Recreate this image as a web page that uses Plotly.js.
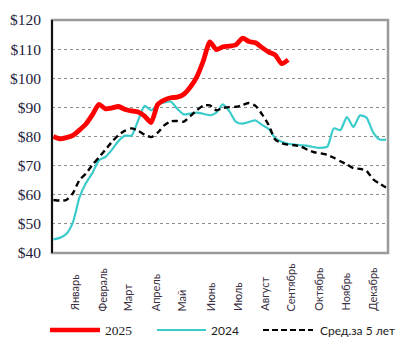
<!DOCTYPE html>
<html>
<head>
<meta charset="utf-8">
<script src="https://cdn.plot.ly/plotly-3.0.1.min.js"></script>
<style>
html,body{margin:0;padding:0;background:#fff;}
#chart{width:417px;height:355px;}
</style>
</head>
<body>
<div id="chart"></div>
<script>
// Week numbers of the year
const weeks = Array.from({length: 52}, (_, i) => i + 1);

// 2025 (weeks 1..37)
const series2025 = [80, 79.2, 79.6, 80.4, 82.2, 84.3, 87.5, 91, 89.5, 89.8,
  90.3, 89.3, 88.8, 88.4, 87, 84.8, 91, 92.5, 93.3, 93.5,
  94.5, 97, 100.5, 106, 112.5, 109.8, 110.8, 111, 111.5, 113.8,
  112.6, 112.2, 110.5, 109, 108, 105, 106.3];

// 2024 (weeks 1..52)
const series2024 = [44.7, 45.2, 46.5, 50.5, 59, 64, 67.5, 71.8, 73, 75.5,
  78.5, 80.3, 80.3, 85.5, 90.5, 89, 91, 91.7, 92, 89.5,
  87.6, 87.9, 88.2, 87.8, 87.3, 88.2, 91, 88.6, 85, 84.4,
  85, 85.5, 84, 82.6, 79.5, 78.2, 77.5, 77.2, 77, 76.8,
  76.3, 76.1, 76.5, 82.8, 82.2, 86.7, 83.3, 87.2, 86.5, 81.5,
  79, 78.9];

// 5-year average (weeks 1..52)
const seriesAvg5 = [58.2, 58, 58.2, 60.5, 65, 67.3, 70.3, 72.8, 75.5, 78.2,
  80.5, 82, 82.8, 82, 80.6, 79.8, 81.3, 83.8, 85.2, 85.3,
  85.1, 87, 89, 90.6, 90.7, 89, 89.8, 90.1, 90.2, 90.8,
  91.5, 90.5, 87.6, 84, 79, 77.7, 77.2, 77, 76.5, 75.4,
  74.6, 74.2, 73.7, 72.7, 71.5, 70.4, 69.1, 68.9, 68.2, 65.4,
  63.8, 62.5];

// Month tick labels and the week at which each is placed
const monthLabels = ["Январь", "Февраль", "Март", "Апрель", "Май", "Июнь",
  "Июль", "Август", "Сентябрь", "Октябрь", "Ноябрь", "Декабрь"];
const monthWeeks = [4.3, 8.6, 12.5, 16.7, 20.8, 25.2, 29.3, 33.4, 37.5, 41.6, 45.8, 49.9];

// Legend names
const seriesNames = ["2025", "2024", "Сред.за 5 лет"];

const SERIF = 'Liberation Serif';
const SANS = 'Lato';

const traces = [
  {x: weeks.slice(0, series2024.length), y: series2024, name: seriesNames[1], mode: 'lines',
   line: {color: '#3ccbcb', width: 2.2, shape: 'spline', smoothing: 0.6}},
  {x: weeks.slice(0, seriesAvg5.length), y: seriesAvg5, name: seriesNames[2], mode: 'lines',
   line: {color: '#000000', width: 2.4, dash: '6px,4px', shape: 'spline', smoothing: 0.6}},
  {x: weeks.slice(0, series2025.length), y: series2025, name: seriesNames[0], mode: 'lines',
   line: {color: '#ff0000', width: 4.8, shape: 'spline', smoothing: 0.6}}
];

const W = 417, H = 355, mL = 52, mR = 29, mT = 20, mB = 102;
const pw = W - mL - mR, ph = H - mT - mB;
const px = v => (v - mL) / pw;
const py = v => (H - mB - v) / ph;

const annotations = monthLabels.map((m, i) => ({
  x: monthWeeks[i], xref: 'x', y: py(313), yref: 'paper',
  text: m, textangle: -90, showarrow: false,
  xanchor: 'center', yanchor: 'bottom',
  font: {family: SANS, size: 11, color: '#3a2f3f'}
}));

// Manual legend
const legY = 330;
const legendItems = [
  {x0: 50, x1: 100, tx: 103, color: '#ff0000', width: 4.5, dash: 'solid', font: SERIF, size: 13.5},
  {x0: 157, x1: 206, tx: 209, color: '#3ccbcb', width: 2.2, dash: 'solid', font: SANS, size: 12},
  {x0: 263, x1: 313, tx: 318, color: '#000000', width: 2.2, dash: '6px,3px', font: SANS, size: 12}
];

const shapes = [
  {type: 'rect', xref: 'paper', yref: 'paper', x0: 0, x1: 1, y0: 0, y1: 1,
   line: {color: '#9a9a9a', width: 2.5}, layer: 'above'},
  {type: 'line', xref: 'paper', yref: 'paper', x0: 0, x1: 0, y0: 0, y1: 1,
   line: {color: '#111111', width: 2}, layer: 'above'}
];
legendItems.forEach((it, i) => {
  shapes.push({type: 'line', xref: 'paper', yref: 'paper', x0: px(it.x0), x1: px(it.x1),
    y0: py(legY), y1: py(legY), line: {color: it.color, width: it.width, dash: it.dash}});
  annotations.push({x: px(it.tx), xref: 'paper', y: py(legY), yref: 'paper',
    text: seriesNames[i], showarrow: false, xanchor: 'left', yanchor: 'middle',
    font: {family: it.font, size: it.size, color: '#222'}});
});

const layout = {
  width: W, height: H,
  margin: {l: mL, r: mR, t: mT, b: mB, pad: 0},
  paper_bgcolor: '#ffffff', plot_bgcolor: '#ffffff',
  showlegend: false,
  xaxis: {range: [0.8, 52.3], showgrid: false, zeroline: false, showticklabels: false,
          showline: false, ticks: ''},
  yaxis: {range: [40, 120], dtick: 10, tickprefix: '$', showgrid: true,
          gridcolor: '#8c8c8c', griddash: 'dot', gridwidth: 1, zeroline: false,
          showline: false, ticks: '', ticklabelstandoff: 10,
          tickfont: {family: SERIF, size: 15.5, color: '#1c1c3c'}},
  shapes: shapes,
  annotations: annotations
};

Plotly.newPlot('chart', traces, layout, {displayModeBar: false, staticPlot: true});
</script>
</body>
</html>
